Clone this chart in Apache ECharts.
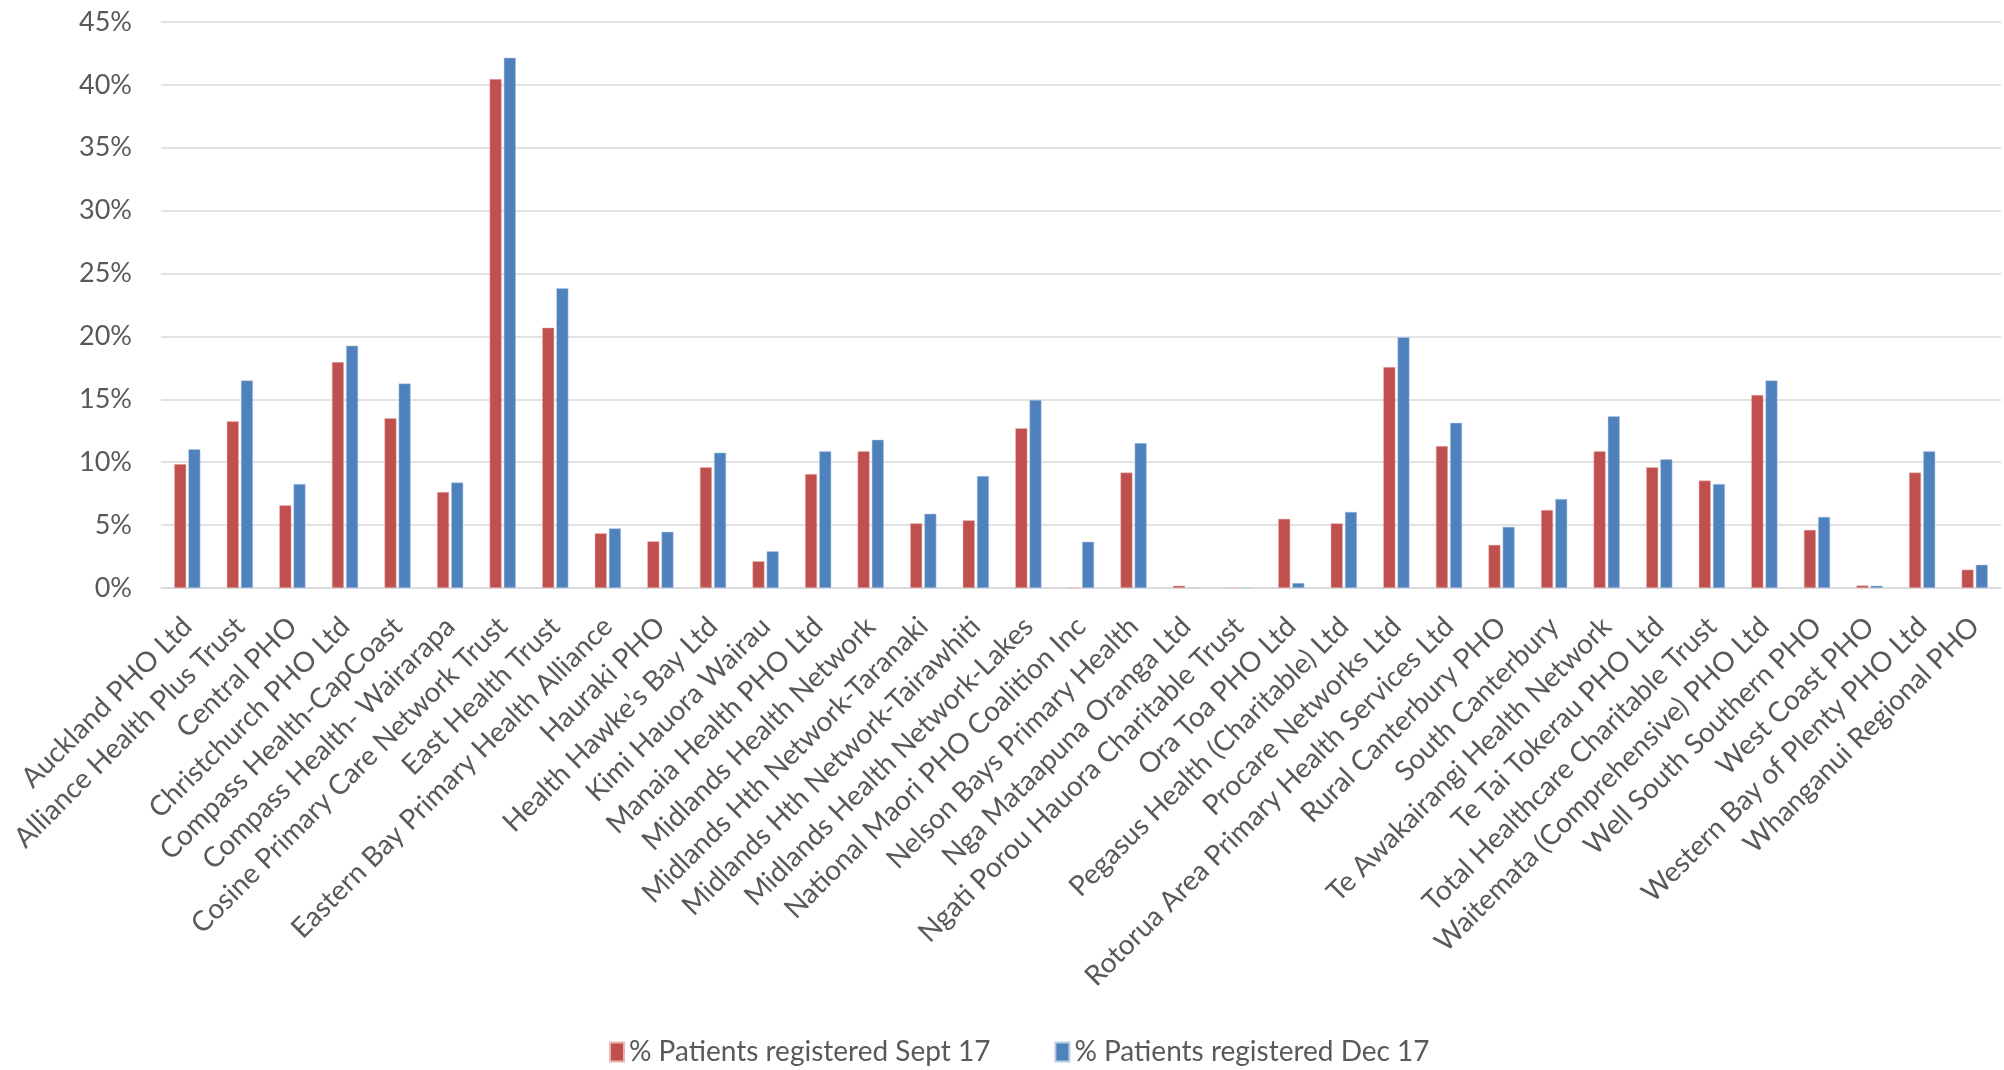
<!DOCTYPE html>
<html>
<head>
<meta charset="utf-8">
<script src="https://cdn.jsdelivr.net/npm/echarts@6/dist/echarts.min.js"></script>
<style>html,body{margin:0;padding:0;background:#fff}#c{width:2004px;height:1070px}</style>
</head>
<body>
<div id="c"></div>
<script>
var categories = [
  "Auckland PHO Ltd","Alliance Health Plus Trust","Central PHO","Christchurch PHO Ltd",
  "Compass Health-CapCoast","Compass Health- Wairarapa","Cosine Primary Care Network Trust",
  "East Health Trust","Eastern Bay Primary Health Alliance","Hauraki PHO","Health Hawke\u2019s Bay Ltd",
  "Kimi Hauora Wairau","Manaia Health PHO Ltd","Midlands Health Network","Midlands Hth Network-Taranaki",
  "Midlands Hth Network-Tairawhiti","Midlands Health Network-Lakes","National Maori PHO Coalition Inc",
  "Nelson Bays Primary Health","Nga Mataapuna Oranga Ltd","Ngati Porou Hauora Charitable Trust",
  "Ora Toa PHO Ltd","Pegasus Health (Charitable) Ltd","Procare Networks Ltd",
  "Rotorua Area Primary Health Services Ltd","Rural Canterbury PHO","South Canterbury",
  "Te Awakairangi Health Network","Te Tai Tokerau PHO Ltd","Total Healthcare Charitable Trust",
  "Waitemata (Comprehensive) PHO Ltd","Well South Southern PHO","West Coast PHO",
  "Western Bay of Plenty PHO Ltd","Whanganui Regional PHO"
];
var seriesNames = ["% Patients registered Sept 17", "% Patients registered Dec 17"];
var sept17 = [9.85,13.25,6.57,17.96,13.5,7.63,40.46,20.7,4.35,3.71,9.6,2.13,9.06,10.88,5.14,5.38,12.7,0,9.18,0.18,0,5.5,5.14,17.57,11.28,3.43,6.2,10.88,9.6,8.54,15.35,4.62,0.2,9.18,1.46];
var dec17 = [11.03,16.5,8.27,19.27,16.26,8.39,42.16,23.83,4.74,4.47,10.76,2.92,10.88,11.79,5.9,8.9,14.95,3.68,11.52,0,0,0.4,6.05,19.94,13.13,4.86,7.08,13.65,10.24,8.27,16.5,5.65,0.18,10.88,1.85];
var yTicks = {min: 0, max: 45, interval: 5};

var chart = echarts.init(document.getElementById('c'));
var font = "Lato, 'Liberation Sans', Arial, sans-serif";
chart.setOption({
  animation: false,
  backgroundColor: '#ffffff',
  grid: {left: 161, right: 3, top: 22, bottom: 482, containLabel: false},
  legend: {
    data: seriesNames,
    left: 604, top: 1033,
    itemWidth: 14, itemHeight: 19, itemGap: 64,
    icon: 'rect',
    textStyle: {color: '#595959', fontSize: 28, fontFamily: font}
  },
  xAxis: {
    type: 'category',
    data: categories,
    axisLine: {lineStyle: {color: '#D9D9D9', width: 1.5}},
    axisTick: {show: false},
    axisLabel: {rotate: 45, interval: 0, margin: 34, color: '#595959', fontSize: 28, fontFamily: font}
  },
  yAxis: {
    type: 'value',
    min: yTicks.min, max: yTicks.max, interval: yTicks.interval,
    axisLine: {show: false},
    axisTick: {show: false},
    splitLine: {lineStyle: {color: '#D9D9D9', width: 1.5}},
    axisLabel: {formatter: '{value}%', margin: 29, color: '#595959', fontSize: 27, fontFamily: font}
  },
  series: [
    {name: seriesNames[0], type: 'bar', data: sept17, barWidth: 12, barGap: '18%',
     itemStyle: {color: '#C0504D', borderColor: '#e8b8b6', borderWidth: 0.5}},
    {name: seriesNames[1], type: 'bar', data: dec17, barWidth: 12, barGap: '18%',
     itemStyle: {color: '#4F81BD', borderColor: '#b9cde6', borderWidth: 0.5}}
  ]
});
</script>
</body>
</html>
